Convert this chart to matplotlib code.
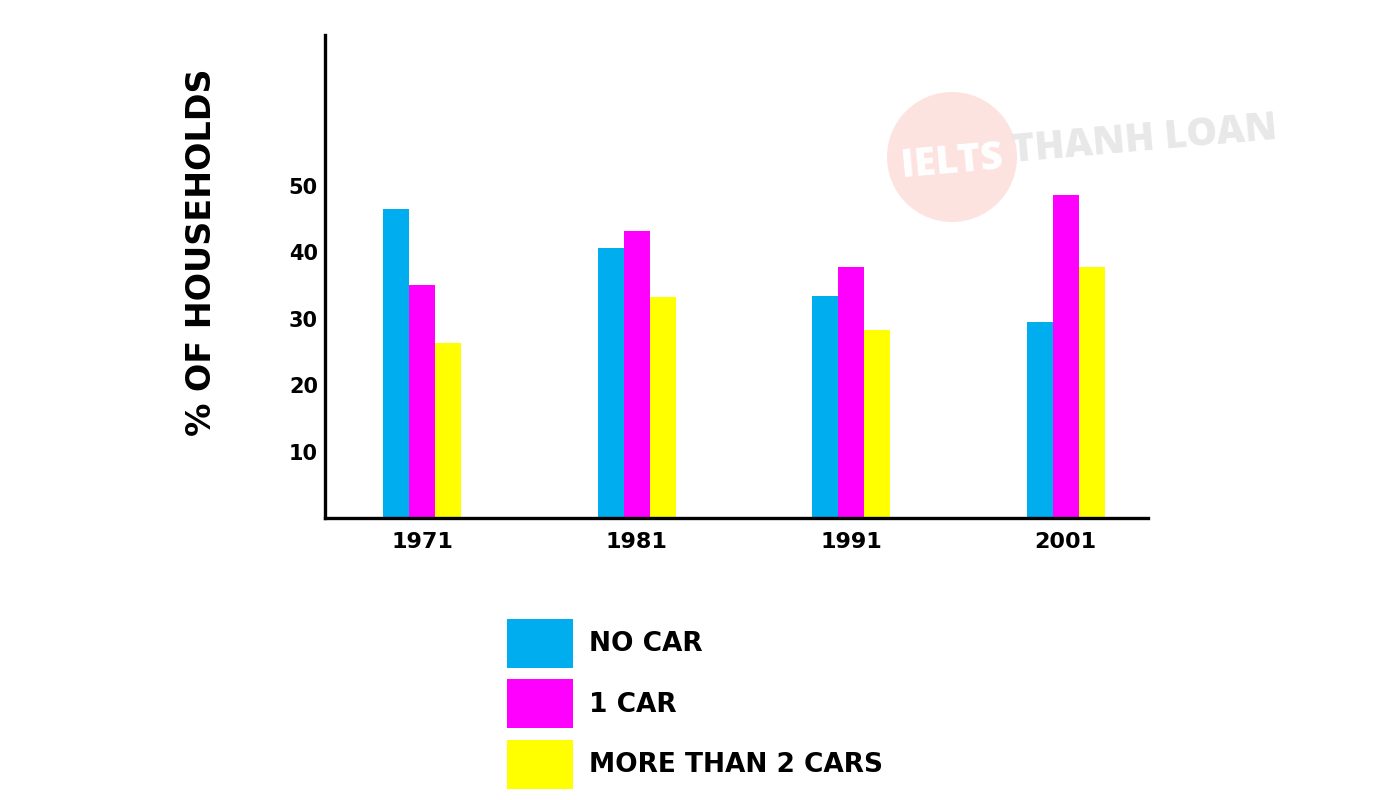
import matplotlib
matplotlib.use("Agg")
import matplotlib.pyplot as plt
import numpy as np
from matplotlib.patches import Patch, Circle

years = ["1971", "1981", "1991", "2001"]
series_names = ["NO CAR", "1 CAR", "MORE THAN 2 CARS"]
no_car = [46.5, 40.7, 33.4, 29.5]
one_car = [35.1, 43.2, 37.8, 48.6]
two_plus = [26.4, 33.3, 28.3, 37.8]
y_ticks = [10, 20, 30, 40, 50]

colors = ["#00aeef", "#ff00ff", "#ffff00"]
font = "DejaVu Sans"
weight = "bold"

fig = plt.figure(figsize=(14, 8), dpi=100)
ax = fig.add_axes([0.2321, 0.3525, 0.5879, 0.60375])

x = np.arange(len(years)) * 0.99
width = 0.12
for i, (vals, c) in enumerate(zip([no_car, one_car, two_plus], colors)):
    ax.bar(x + (i - 1) * width, vals, width, color=c, label=series_names[i])

ax.set_xlim(-0.449, 3.35)
ax.set_ylim(0, 72.7)
ax.set_yticks(y_ticks)
ax.set_yticklabels([str(t) for t in y_ticks], fontfamily=font, fontweight=weight, fontsize=15)
ax.set_xticks(x)
ax.set_xticklabels(years, fontfamily=font, fontweight=weight, fontsize=16)
ax.tick_params(length=0)
ax.tick_params(axis="y", pad=5)
ax.tick_params(axis="x", pad=10)
for s in ["top", "right"]:
    ax.spines[s].set_visible(False)
for s in ["left", "bottom"]:
    ax.spines[s].set_linewidth(2.4)
    ax.spines[s].set_color("black")

fig.text(0.1436, 0.685, "% OF HOUSEHOLDS", rotation=90, ha="center", va="center",
         fontfamily=font, fontweight=weight, fontsize=24)

# faint watermark (circle in inches so it stays round)
fig.patches.append(Circle((9.52, 8 - 1.57), 0.65, transform=fig.dpi_scale_trans,
                          facecolor="#fde3df", edgecolor="none", zorder=0))
fig.text(952 / 1400, 1 - 162 / 800, "IELTS", rotation=5, ha="center", va="center",
         color="white", fontfamily="Open Sans", fontweight=800, fontsize=28, zorder=1)
fig.text(1145 / 1400, 1 - 140 / 800, "THANH LOAN", rotation=5, ha="center", va="center",
         color="#e8e8e8", fontfamily="Open Sans", fontweight=800, fontsize=28, zorder=1)
ax.set_zorder(2)
ax.patch.set_alpha(0)

handles = [Patch(facecolor=c, edgecolor="none") for c in colors]
fig.legend(handles, series_names, loc="upper left", bbox_to_anchor=(507 / 1400, 1 - 619 / 800),
           frameon=False, borderpad=0, borderaxespad=0,
           prop={"family": font, "weight": weight, "size": 19},
           handlelength=2.5, handleheight=2.47, handletextpad=0.6, labelspacing=0.44)

fig.savefig("out.png", dpi=100, facecolor="white")
